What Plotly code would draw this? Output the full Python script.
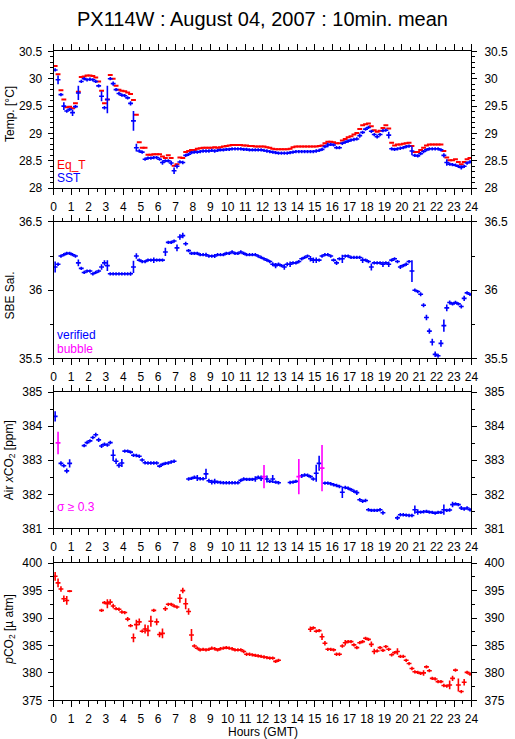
import plotly.graph_objects as go

N = None
BIN_MIN = 10  # 10-minute means
hours = [(i + 0.5) * BIN_MIN / 60 for i in range(144)]

# ---------------- Panel 1: temperatures ----------------
eq_t = [
    30.23, 30.08, 29.79, 29.62, 29.48, 29.49,
    29.46, 29.55, 29.76, 30.03, 30.04, 30.06,
    30.06, 30.05, 30.02, 29.95, 29.78, 29.55,
    29.62, 30.07, 30.00, 29.87, 29.80, 29.78,
    29.77, 29.75, 29.72, 29.61, 29.34, 28.84,
    28.74, 28.74, 28.61, 28.61, 28.62, 28.62,
    28.62, 28.58, 28.55, 28.60, 28.55, 28.41,
    28.44, 28.56, 28.55, 28.66, 28.68, 28.70,
    28.70, 28.72, 28.73, 28.74, 28.74, 28.74,
    28.74, 28.75, 28.74, 28.75, 28.76, 28.77,
    28.78, 28.79, 28.79, 28.79, 28.79, 28.78,
    28.78, 28.77, 28.77, 28.76, 28.76, 28.76,
    28.76, 28.75, 28.74, 28.72, 28.71, 28.71,
    28.71, 28.71, 28.71, 28.72, 28.75, 28.76,
    28.76, 28.76, 28.76, 28.76, 28.76, 28.76,
    28.76, 28.77, 28.78, 28.82, 28.85, 28.85,
    28.84, 28.82, 28.82, 28.87, 28.90, 28.93,
    28.95, 28.98, 29.01, 29.08, 29.15, 29.17,
    29.18, 29.13, 29.06, 29.03, 29.05, 29.10,
    29.15, 29.09, 28.83, 28.78, 28.80, 28.80,
    28.81, 28.82, 28.83, 28.77, 28.66, 28.66,
    28.70, 28.74, 28.78, 28.80, 28.80, 28.80,
    28.80, 28.80, 28.68, 28.56, 28.51, 28.51,
    28.53, 28.48, 28.44, 28.48, 28.53, 28.55,
]
sst = [
    30.16, 29.98, 29.71, 29.50, 29.41, 29.44,
    29.38, 29.49, 29.74, 29.95, 30.00, 29.98,
    29.99, 29.98, 29.95, 29.87, 29.68, 29.47,
    29.62, 30.00, 29.91, 29.80, 29.73, 29.70,
    29.69, 29.65, 29.55, 29.23, 28.74, 28.68,
    28.66, 28.53, 28.55, 28.55, 28.56, 28.56,
    28.53, 28.47, 28.50, 28.50, 28.46, 28.32,
    28.40, 28.48, 28.47, 28.60, 28.62, 28.65,
    28.66, 28.66, 28.67, 28.68, 28.68, 28.68,
    28.69, 28.68, 28.69, 28.70, 28.70, 28.71,
    28.71, 28.72, 28.72, 28.72, 28.72, 28.71,
    28.71, 28.70, 28.70, 28.70, 28.70, 28.70,
    28.69, 28.68, 28.67, 28.66, 28.65, 28.64,
    28.64, 28.64, 28.64, 28.65, 28.66, 28.67,
    28.67, 28.67, 28.67, 28.67, 28.67, 28.67,
    28.68, 28.69, 28.71, 28.76, 28.79, 28.80,
    28.79, 28.74, 28.74, 28.82, 28.84, 28.86,
    28.88, 28.89, 28.90, 28.96, 29.02, 29.08,
    29.11, 29.04, 28.98, 28.94, 28.98, 29.05,
    29.06, 28.97, 28.72, 28.71, 28.72, 28.73,
    28.74, 28.76, 28.77, 28.68, 28.60, 28.59,
    28.63, 28.67, 28.70, 28.72, 28.72, 28.72,
    28.72, 28.70, 28.60, 28.47, 28.44, 28.43,
    28.42, 28.40, 28.38, 28.40, 28.46, 28.48,
]
sst_err = [
    0.03, 0.08, 0.03, 0.07, 0.03, 0.03,
    0.06, 0.03, 0.13, 0.03, 0.03, 0.03,
    0.03, 0.03, 0.03, 0.03, 0.09, 0.03,
    0.25, 0.03, 0.04, 0.03, 0.03, 0.03,
    0.03, 0.03, 0.04, 0.18, 0.07, 0.03,
    0.03, 0.03, 0.03, 0.03, 0.03, 0.03,
    0.03, 0.04, 0.03, 0.03, 0.04, 0.06,
    0.04, 0.03, 0.03, 0.03, 0.03, 0.03,
    0.03, 0.03, 0.03, 0.03, 0.03, 0.03,
    0.03, 0.03, 0.03, 0.03, 0.03, 0.03,
    0.03, 0.03, 0.03, 0.03, 0.03, 0.03,
    0.03, 0.03, 0.03, 0.03, 0.03, 0.03,
    0.03, 0.03, 0.03, 0.03, 0.03, 0.03,
    0.03, 0.03, 0.03, 0.03, 0.03, 0.03,
    0.03, 0.03, 0.03, 0.03, 0.03, 0.03,
    0.03, 0.03, 0.03, 0.03, 0.04, 0.03,
    0.03, 0.03, 0.03, 0.03, 0.03, 0.03,
    0.03, 0.03, 0.03, 0.04, 0.03, 0.03,
    0.03, 0.03, 0.03, 0.03, 0.03, 0.03,
    0.03, 0.06, 0.03, 0.03, 0.03, 0.03,
    0.03, 0.03, 0.03, 0.08, 0.03, 0.03,
    0.03, 0.03, 0.03, 0.03, 0.03, 0.03,
    0.03, 0.03, 0.04, 0.06, 0.03, 0.03,
    0.03, 0.03, 0.04, 0.03, 0.03, 0.03,
]

# ---------------- Panel 2: salinity ----------------
sal = [
    36.17, 36.19, 36.25, 36.26, 36.27, 36.27,
    36.26, 36.25, 36.20, 36.16, 36.13, 36.14,
    36.14, 36.12, 36.13, 36.14, 36.17, 36.20,
    36.18, 36.12, 36.12, 36.12, 36.12, 36.12,
    36.12, 36.12, 36.12, 36.17, 36.25, 36.22,
    36.21, 36.21, 36.22, 36.22, 36.22, 36.22,
    36.22, 36.22, 36.28, 36.35, 36.35, 36.36,
    36.31, 36.39, 36.40, 36.34, 36.29, 36.27,
    36.27, 36.27, 36.26, 36.26, 36.26, 36.25,
    36.25, 36.25, 36.26, 36.26, 36.26, 36.27,
    36.27, 36.28, 36.27, 36.27, 36.28, 36.27,
    36.26, 36.26, 36.26, 36.26, 36.25, 36.24,
    36.23, 36.22, 36.21, 36.19, 36.18, 36.19,
    36.18, 36.17, 36.19, 36.19, 36.20, 36.20,
    36.21, 36.23, 36.24, 36.25, 36.23, 36.22,
    36.22, 36.22, 36.25, 36.26, 36.26, 36.25,
    36.22, 36.20, 36.23, 36.23, 36.25, 36.25,
    36.24, 36.24, 36.24, 36.24, 36.22, 36.22,
    36.21, 36.17, 36.20, 36.20, 36.20, 36.19,
    36.20, 36.19, 36.22, 36.23, 36.21, 36.17,
    36.18, 36.19, 36.21, 36.14, 36.00, 35.99,
    35.97, 35.89, 35.80, 35.70, 35.62, 35.53,
    35.52, 35.61, 35.74, 35.87, 35.91, 35.90,
    35.91, 35.90, 35.88, 35.94, 35.98, 35.97,
]
sal_err = [
    0.04, 0.012, 0.012, 0.012, 0.012, 0.012,
    0.012, 0.012, 0.025, 0.012, 0.012, 0.012,
    0.012, 0.012, 0.012, 0.012, 0.02, 0.02,
    0.04, 0.012, 0.012, 0.012, 0.012, 0.012,
    0.012, 0.012, 0.015, 0.045, 0.02, 0.012,
    0.012, 0.012, 0.012, 0.012, 0.02, 0.012,
    0.012, 0.012, 0.03, 0.012, 0.012, 0.012,
    0.025, 0.02, 0.02, 0.015, 0.012, 0.012,
    0.012, 0.012, 0.012, 0.012, 0.015, 0.012,
    0.012, 0.015, 0.012, 0.012, 0.012, 0.012,
    0.012, 0.012, 0.012, 0.012, 0.012, 0.012,
    0.012, 0.012, 0.012, 0.012, 0.012, 0.012,
    0.012, 0.012, 0.012, 0.015, 0.02, 0.012,
    0.012, 0.02, 0.015, 0.02, 0.012, 0.012,
    0.012, 0.012, 0.012, 0.012, 0.02, 0.02,
    0.02, 0.012, 0.012, 0.012, 0.012, 0.012,
    0.012, 0.015, 0.012, 0.03, 0.012, 0.012,
    0.012, 0.012, 0.012, 0.012, 0.02, 0.012,
    0.012, 0.025, 0.012, 0.012, 0.012, 0.02,
    0.012, 0.02, 0.012, 0.012, 0.012, 0.015,
    0.012, 0.012, 0.012, 0.08, 0.012, 0.012,
    0.015, 0.015, 0.02, 0.02, 0.025, 0.02,
    0.015, 0.025, 0.045, 0.025, 0.015, 0.012,
    0.012, 0.012, 0.015, 0.02, 0.012, 0.012,
]

# ---------------- Panel 3: atmospheric xCO2 ----------------
xco2 = [
    384.29, 383.51, 382.91, 382.84, 382.69, 382.91,
    N, N, N, N, 383.43, 383.52,
    383.57, 383.67, 383.75, 383.60, 383.42, 383.47,
    383.45, 383.52, 383.15, 382.97, 382.85, 382.92,
    383.27, 383.27, 383.24, 383.15, 383.14, 383.12,
    383.01, 382.93, 382.92, 382.92, 382.92, 382.92,
    382.83, 382.88, 382.91, 382.92, 382.95, 382.97,
    N, N, N, N, 382.45, 382.47,
    382.50, 382.48, 382.46, 382.46, 382.60, 382.40,
    382.36, 382.38, 382.36, 382.35, 382.34, 382.34,
    382.34, 382.34, 382.34, 382.34, 382.41, 382.45,
    382.44, 382.44, 382.44, 382.45, 382.50, 382.47,
    382.52, 382.45, 382.38, 382.45, 382.36, 382.34,
    N, N, N, 382.35, 382.36, 382.38,
    382.52, 382.54, 382.57, 382.56, 382.52, 382.45,
    382.62, 382.91, 382.77, 382.33, 382.33, 382.31,
    382.28, 382.26, 382.23, 382.06, 382.20, 382.18,
    382.14, 382.09, 382.05, 381.84, 381.80, 381.82,
    381.55, 381.53, 381.53, 381.53, 381.55, 381.46,
    N, N, N, N, 381.31, 381.40,
    381.40, 381.39, 381.38, 381.38, 381.55, 381.48,
    381.48, 381.49, 381.50, 381.48, 381.47, 381.45,
    381.47, 381.47, 381.55, 381.53, 381.54, 381.70,
    381.72, 381.70, 381.60, 381.57, 381.60, 381.55,
]
xco2_err = [
    0.15, 0.33, 0.06, 0.05, 0.07, 0.12,
    N, N, N, N, 0.05, 0.05,
    0.05, 0.05, 0.06, 0.06, 0.06, 0.05,
    0.05, 0.05, 0.17, 0.08, 0.07, 0.12,
    0.05, 0.05, 0.05, 0.05, 0.05, 0.05,
    0.05, 0.05, 0.05, 0.05, 0.05, 0.05,
    0.05, 0.05, 0.05, 0.05, 0.05, 0.05,
    N, N, N, N, 0.05, 0.05,
    0.05, 0.09, 0.05, 0.05, 0.15, 0.06,
    0.07, 0.08, 0.05, 0.05, 0.05, 0.05,
    0.05, 0.05, 0.05, 0.05, 0.05, 0.05,
    0.05, 0.05, 0.05, 0.08, 0.05, 0.08,
    0.34, 0.10, 0.05, 0.12, 0.05, 0.05,
    N, N, N, 0.05, 0.05, 0.05,
    0.52, 0.06, 0.05, 0.05, 0.05, 0.05,
    0.25, 0.22, 0.68, 0.05, 0.05, 0.05,
    0.05, 0.05, 0.05, 0.17, 0.05, 0.05,
    0.05, 0.05, 0.07, 0.05, 0.05, 0.05,
    0.05, 0.05, 0.05, 0.05, 0.05, 0.06,
    N, N, N, N, 0.06, 0.05,
    0.05, 0.05, 0.05, 0.05, 0.12, 0.08,
    0.05, 0.05, 0.05, 0.05, 0.05, 0.05,
    0.05, 0.05, 0.15, 0.05, 0.05, 0.08,
    0.05, 0.05, 0.06, 0.05, 0.05, 0.05,
]
SIGMA_FLAG = 0.3

# ---------------- Panel 4: seawater pCO2 ----------------
pco2 = [
    397.6, 396.4, 395.3, 393.5, 393.2, 394.9,
    N, N, N, N, N, N,
    N, N, N, N, 391.4, 392.8,
    392.6, 392.9, 392.2, 391.7, 391.6, 391.1,
    391.0, 389.8, 388.6, 386.4, 388.8, 389.3,
    387.6, 388.0, 387.7, 389.4, 391.4, 389.3,
    387.0, 387.2, 391.7, 392.5, 392.5, 392.2,
    392.0, 393.6, 395.0, 392.6, 391.2, 386.9,
    384.9, 384.5, 384.2, 384.3, 384.2, 384.3,
    384.5, 384.4, 384.2, 384.4, 384.5, 384.6,
    384.5, 384.4, 384.2, 384.2, 384.2, 383.9,
    383.4, 383.4, 383.3, 383.2, 383.1, 383.0,
    382.9, 382.8, 382.7, 382.7, 382.1, 382.3,
    N, N, N, N, N, N,
    N, N, N, N, 387.95, 388.2,
    387.6, 387.7, 386.6, 385.4, 384.3, 384.3,
    384.2, 383.4, 383.4, 384.9, 385.5, 385.7,
    385.7, 385.1, 384.6, 385.5, 385.7, 386.3,
    386.1, 385.2, 383.9, 384.0, 384.6, 384.1,
    384.8, 384.3, 383.3, 383.7, 383.9, 383.0,
    383.0, 382.3, 381.7, 380.8, 380.2, 380.1,
    379.9, 380.0, 381.1, 380.4, 379.0, 378.9,
    378.4, 378.4, 377.7, 377.6, 377.8, 379.0,
    380.5, 377.8, 376.6, 378.3, 380.1, 379.8,
]
pco2_err = [
    0.8, 0.8, 0.5, 0.6, 0.8, 0.2,
    N, N, N, N, N, N,
    N, N, N, N, 0.3, 0.3,
    0.8, 0.5, 0.4, 0.3, 0.3, 0.3,
    0.3, 0.4, 0.3, 0.8, 0.9, 0.6,
    0.3, 0.8, 1.0, 1.0, 0.3, 0.6,
    0.5, 0.9, 0.4, 0.3, 0.3, 0.3,
    0.3, 0.8, 0.5, 1.0, 0.6, 1.1,
    0.3, 0.3, 0.3, 0.3, 0.3, 0.3,
    0.3, 0.3, 0.3, 0.3, 0.3, 0.3,
    0.3, 0.3, 0.3, 0.3, 0.3, 0.3,
    0.3, 0.3, 0.3, 0.3, 0.3, 0.3,
    0.3, 0.3, 0.3, 0.3, 0.3, 0.3,
    N, N, N, N, N, N,
    N, N, N, N, 0.5, 0.3,
    0.3, 0.3, 0.6, 0.4, 0.3, 0.3,
    0.3, 0.3, 0.3, 0.3, 0.5, 0.3,
    0.3, 0.3, 0.3, 0.3, 0.3, 0.3,
    0.3, 0.5, 0.5, 0.3, 0.3, 0.3,
    0.3, 0.3, 0.3, 0.3, 0.6, 0.3,
    0.3, 0.3, 0.3, 0.3, 0.3, 0.3,
    0.3, 0.5, 0.3, 0.3, 0.3, 0.3,
    0.3, 0.3, 0.3, 0.3, 0.8, 0.5,
    0.3, 1.2, 0.3, 0.6, 0.3, 0.3,
]

x_ticks = list(range(0, 25))

# ---------------- figure ----------------
W = 515
H_TARGET = 739
H = 747                # page photographed ~8 px taller than the target, then fitted
YS = H / H_TARGET
X0, X1 = 51.7, 477.7
PANELS = [(44.7, 182.7), (216.7, 354.3), (388.3, 525.7), (560.7, 699.0)]
YR = [(28, 30.5, 0.5, 0.1), (35.5, 36.5, 0.5, 0.25), (381, 385, 1, 0.5), (375, 400, 5, 2.5)]
FONT = "Liberation Sans, Arial, Helvetica, sans-serif"
BLUE, RED, MAG = "#0000ff", "#ff0000", "#ff00ff"
BAR_HALF = 0.14  # half-width of the horizontal bar of each cross, hours


def py(y):
    """target pixel row -> paper fraction"""
    return min(1.0, max(0.0, 1 - y * YS / H))


fig = go.Figure()


def cross(x, y, err, color, xa, ya, thick=1.6, vert=True):
    fig.add_trace(go.Scatter(
        x=x, y=y, mode="markers", xaxis=xa, yaxis=ya,
        marker=dict(size=1, color=color),
        error_x=dict(type="constant", value=BAR_HALF, width=0, thickness=thick, color=color),
        error_y=(dict(type="data", array=err, width=0, thickness=thick, color=color, visible=True)
                 if vert else dict(visible=False)),
        showlegend=False, hoverinfo="skip"))


cross(hours, eq_t, None, RED, "x", "y", thick=2, vert=False)
cross(hours, sst, sst_err, BLUE, "x", "y")
cross(hours, sal, sal_err, BLUE, "x2", "y2")

# split xCO2 by sigma flag
xb = [h if (e is not None and e < SIGMA_FLAG) else None for h, e in zip(hours, xco2_err)]
xm = [h if (e is not None and e >= SIGMA_FLAG) else None for h, e in zip(hours, xco2_err)]
cross(xb, xco2, xco2_err, BLUE, "x3", "y3")
cross(xm, xco2, xco2_err, MAG, "x3", "y3")
cross(hours, pco2, pco2_err, RED, "x4", "y4")

tickfont = dict(family=FONT, size=12, color="black")
layout = dict(
    width=W, height=H, margin=dict(l=0, r=0, t=0, b=0),
    paper_bgcolor="white", plot_bgcolor="white", showlegend=False,
    font=dict(family=FONT, color="black"),
)
for i, ((top, bot), (lo, hi, dt, mdt)) in enumerate(zip(PANELS, YR)):
    n = i + 1
    sfx = "" if n == 1 else str(n)
    ydom = [py(bot), py(top)]
    layout["xaxis" + sfx] = dict(
        domain=[X0 / W, X1 / W], anchor="y" + sfx, range=[0, 24],
        tickmode="array", tickvals=x_ticks, ticktext=[str(v) for v in x_ticks],
        ticks="outside", ticklen=6, tickwidth=1, tickcolor="black",
        minor=dict(dtick=0.5, tick0=0, ticks="outside", ticklen=3, tickwidth=1,
                   tickcolor="black", showgrid=False),
        showline=True, linecolor="black", linewidth=1, mirror="ticks",
        showgrid=False, zeroline=False, tickfont=tickfont, ticklabelstandoff=1,
        fixedrange=True)
    layout["yaxis" + sfx] = dict(
        domain=ydom, anchor="x" + sfx, range=[lo, hi], tick0=lo, dtick=dt,
        ticks="outside", ticklen=5, tickwidth=1, tickcolor="black",
        minor=dict(dtick=mdt, tick0=lo, ticks="outside", ticklen=3, tickwidth=1,
                   tickcolor="black", showgrid=False),
        showline=True, linecolor="black", linewidth=1, mirror="ticks",
        showgrid=False, zeroline=False, tickfont=tickfont, ticklabelstandoff=3,
        fixedrange=True)
    rn = n + 4
    layout["yaxis" + str(rn)] = dict(
        overlaying="y" + sfx, anchor="x" + sfx, side="right", range=[lo, hi],
        tick0=lo, dtick=dt, ticks="", showline=False, showgrid=False, zeroline=False,
        tickfont=tickfont, ticklabelstandoff=12, fixedrange=True)
    fig.add_trace(go.Scatter(x=[None], y=[None], xaxis="x" + sfx, yaxis="y" + str(rn),
                             showlegend=False, hoverinfo="skip"))

fig.update_layout(**layout)

ann = []


def txt(text, x, y, size=12, color="black", xanchor="center", angle=0, yanchor="middle"):
    ann.append(dict(text=text, x=x / W, y=py(y), xref="paper", yref="paper",
                    showarrow=False, xanchor=xanchor, yanchor=yanchor, textangle=angle,
                    font=dict(family=FONT, size=size, color=color)))


txt("PX114W : August 04, 2007 : 10min. mean", 264.7, 12, size=20)
txt("Temp. [°C]", 7, 108, angle=-90)
txt("SBE Sal.", 7, 291, angle=-90)
txt("Air <i>x</i>CO<sub>2</sub> [ppm]", 7, 457, angle=-90)
txt("<i>p</i>CO<sub>2</sub> [µ atm]", 7, 627, angle=-90)
txt("Hours (GMT)", 264.7, 731)
txt("Eq_T", 53.5, 159, color=RED, xanchor="left")
txt("SST", 53.5, 172, color=BLUE, xanchor="left")
txt("verified", 53.5, 331, color=BLUE, xanchor="left")
txt("bubble", 53.5, 345, color=MAG, xanchor="left")
txt("σ ≥ 0.3", 53.5, 504, color=MAG, xanchor="left")
fig.update_layout(annotations=ann)

PAGE_CSS = ("var s=document.createElement('style');"
            "s.innerHTML='html,body{margin:0!important;padding:0!important;"
            "overflow:hidden!important;}';"
            "document.head.appendChild(s);")
fig.write_html("out.html", config={"displayModeBar": False}, post_script=PAGE_CSS)
